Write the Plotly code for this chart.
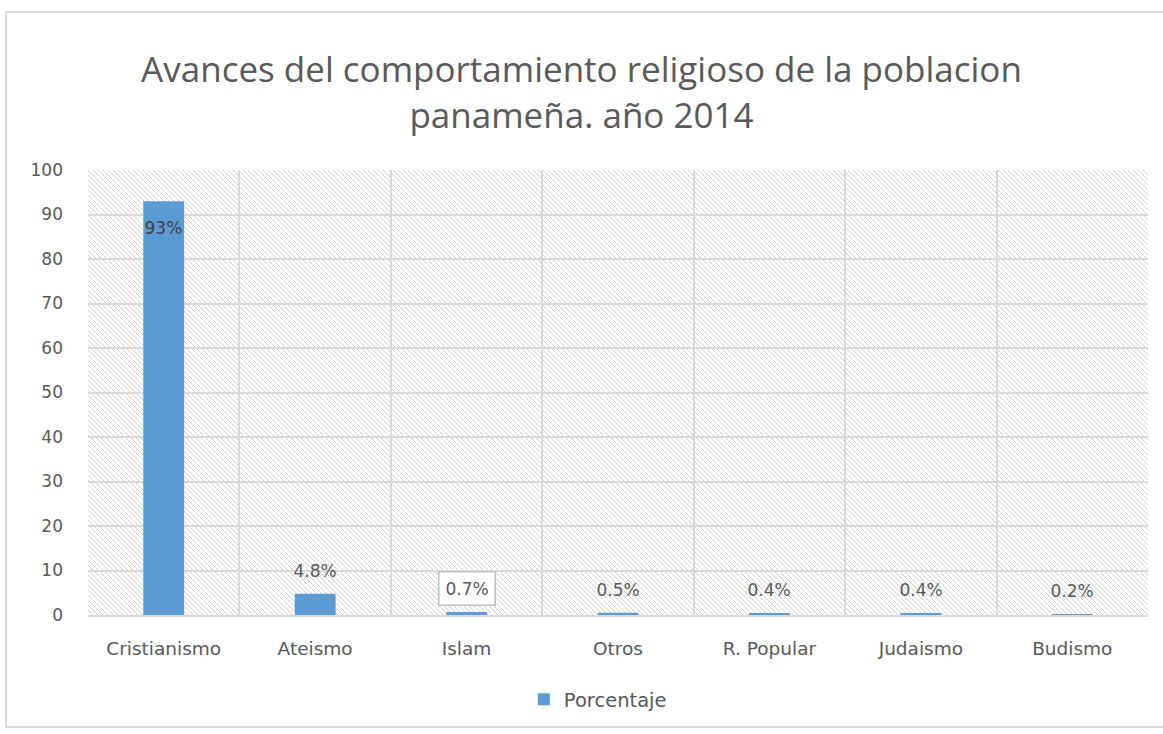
import plotly.graph_objects as go
import urllib.parse

categories = ["Cristianismo", "Ateismo", "Islam", "Otros", "R. Popular", "Judaismo", "Budismo"]
values = [93, 4.8, 0.7, 0.5, 0.4, 0.4, 0.2]
labels = ["93%", "4.8%", "0.7%", "0.5%", "0.4%", "0.4%", "0.2%"]
series_name = "Porcentaje"
title_text = "Avances del comportamiento religioso de la poblacion<br>panameña. año 2014"
y_ticks = [0, 10, 20, 30, 40, 50, 60, 70, 80, 90, 100]

BAR = "#5b9bd5"
TXT = "#595959"

fig = go.Figure()
fig.add_trace(go.Bar(
    x=categories, y=values, name=series_name,
    marker=dict(color=BAR, line=dict(width=0)),
    width=0.27, showlegend=True, hoverinfo="x+y",
))

# data labels
for i, (c, v, t) in enumerate(zip(categories, values, labels)):
    inside = v > 50
    boxed = c == "Islam"
    fig.add_annotation(
        x=c, y=v, text=t, showarrow=False,
        yanchor="top" if inside else "bottom",
        yshift=-15 if inside else (6 if boxed else 12),
        font=dict(family="DejaVu Sans", size=17, color="#404040" if inside else TXT),
        bordercolor="#bfbfbf" if boxed else "rgba(0,0,0,0)",
        borderwidth=1.5, borderpad=6 if boxed else 0,
        bgcolor="white" if boxed else "rgba(0,0,0,0)",
    )

# hatched plot-area background (styling only)
svg = (
    '<svg xmlns="http://www.w3.org/2000/svg" width="1060" height="445" preserveAspectRatio="none">'
    '<defs><pattern id="h" width="5" height="5" patternUnits="userSpaceOnUse">'
    '<rect width="5" height="5" fill="#ffffff"/>'
    '<path d="M-1,-1 L6,6 M-1,4 L1,6 M4,-1 L6,1" stroke="#cfcfcf" stroke-width="1"/>'
    '</pattern></defs><rect width="1060" height="445" fill="url(#h)"/></svg>'
)
src = "data:image/svg+xml;charset=utf-8," + urllib.parse.quote(svg)
fig.add_layout_image(dict(
    source=src, xref="paper", yref="paper", x=0, y=1, sizex=1, sizey=1,
    sizing="stretch", xanchor="left", yanchor="top", layer="below",
))

# outer chart border
fig.add_shape(type="rect", xref="paper", yref="paper",
              x0=-82 / 1060, x1=1155 / 1060, y0=-112 / 445, y1=(615 - 12) / 445,
              line=dict(color="#d9d9d9", width=2), fillcolor="rgba(0,0,0,0)")

fig.update_layout(
    width=1163, height=734,
    margin=dict(l=88, r=15, t=170, b=119),
    paper_bgcolor="white", plot_bgcolor="rgba(0,0,0,0)",
    title=dict(text=title_text, x=0.5, xanchor="center", y=0.888, yanchor="middle",
               font=dict(family="Open Sans", size=35, color=TXT)),
    bargap=0.73,
    legend=dict(orientation="h", x=0.481, xanchor="center", y=-0.19, yanchor="middle",
                font=dict(family="DejaVu Sans", size=19.5, color=TXT), itemwidth=30),
    showlegend=True,
    font=dict(family="DejaVu Sans", color=TXT),
)
fig.update_xaxes(
    showgrid=True, gridcolor="#d9d9d9", gridwidth=1.5, tickson="boundaries",
    ticks="", tickfont=dict(family="DejaVu Sans", size=18.5, color=TXT), ticklabelstandoff=16,
    showline=True, linecolor="#d9d9d9", linewidth=2,
)
fig.update_yaxes(
    range=[0, 100], tickvals=y_ticks, showgrid=True, gridcolor="#d9d9d9", gridwidth=1.5,
    tickfont=dict(family="DejaVu Sans", size=17, color=TXT), ticklabelstandoff=24, zeroline=False,
    showline=False,
)

fig.write_html("out.html")
